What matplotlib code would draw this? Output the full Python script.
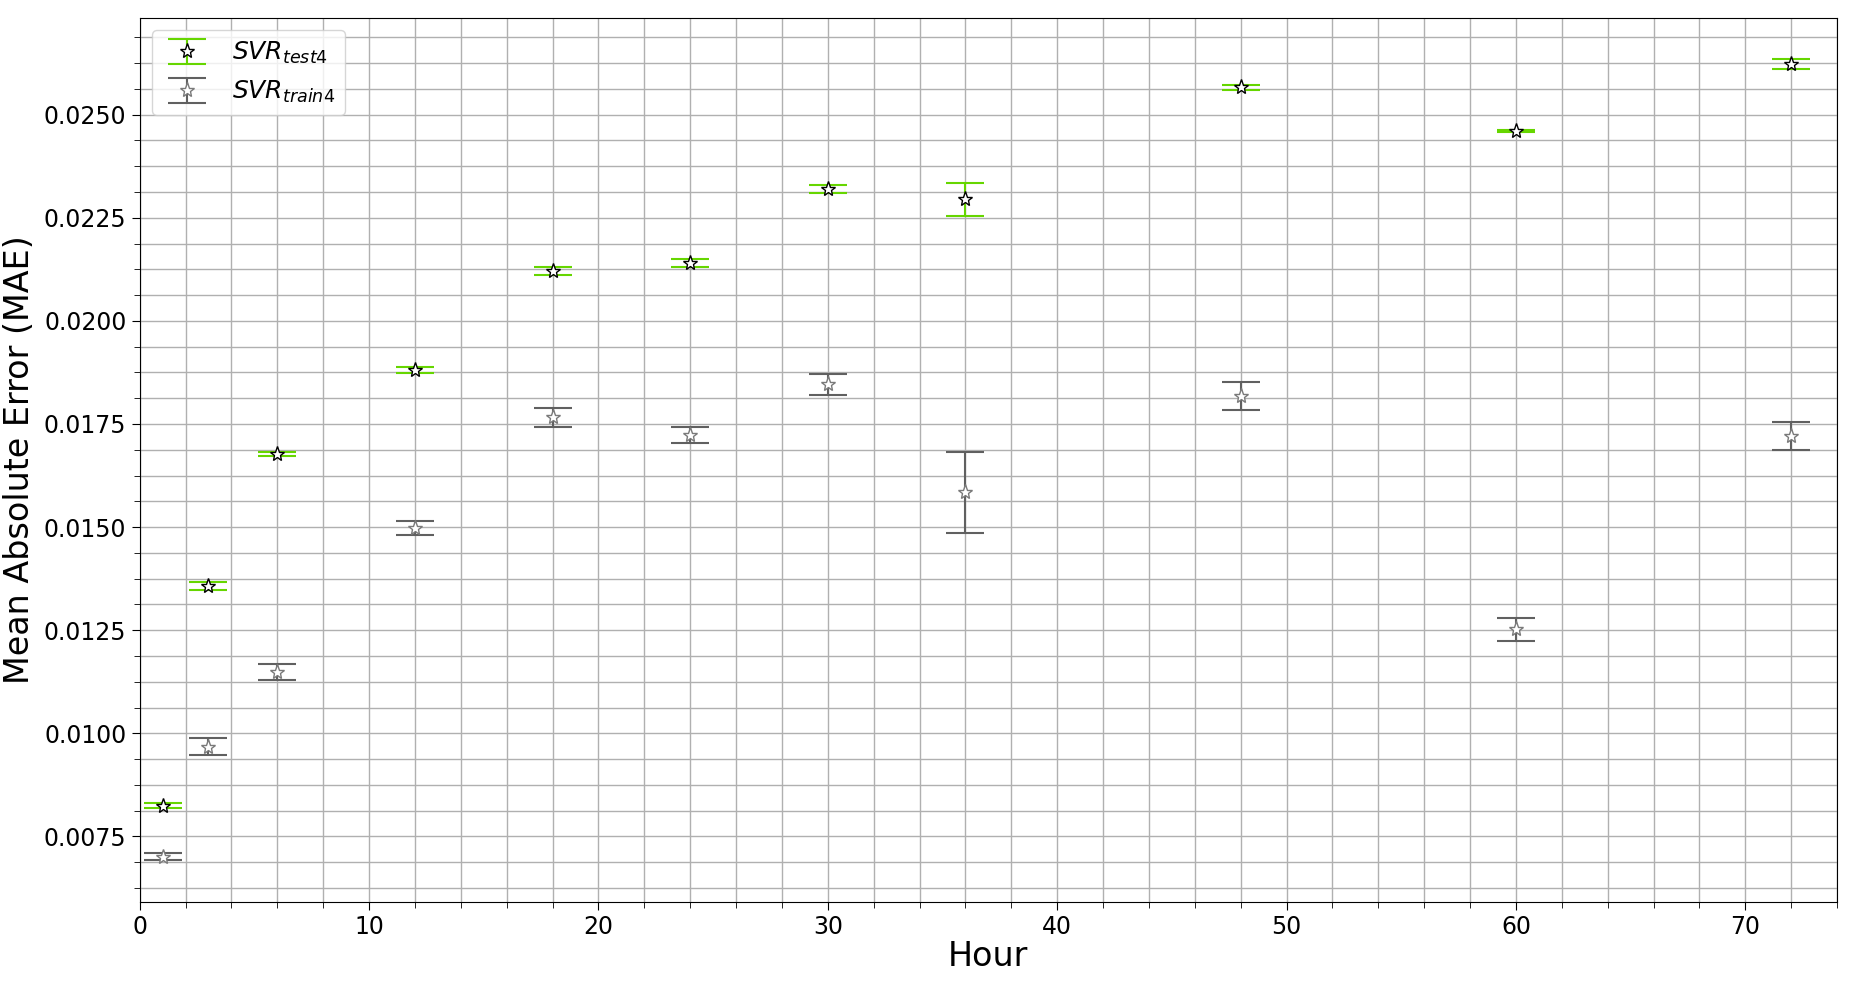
import matplotlib
matplotlib.use("Agg")
import matplotlib.pyplot as plt
from matplotlib.ticker import MultipleLocator

hours = [1, 3, 6, 12, 18, 24, 30, 36, 48, 60, 72]

# test MAE and spread
svr_test = [0.00825, 0.01358, 0.01677, 0.01880, 0.02121, 0.02141, 0.02319, 0.02295, 0.02566, 0.02460, 0.02623]
svr_test_err = [0.00005, 0.00010, 0.00004, 0.00007, 0.00010, 0.00010, 0.00010, 0.00040, 0.00006, 0.00002, 0.00012]

# train MAE and spread
svr_train = [0.00701, 0.00968, 0.01149, 0.01499, 0.01766, 0.01723, 0.01846, 0.01584, 0.01817, 0.01252, 0.01720]
svr_train_err = [0.00008, 0.00020, 0.00019, 0.00017, 0.00024, 0.00020, 0.00026, 0.00099, 0.00034, 0.00027, 0.00034]

fig = plt.figure(figsize=(18.55, 9.86), dpi=100)
ax = fig.add_axes([0.0753, 0.0856, 0.9150, 0.8964])

ax.errorbar(hours, svr_test, yerr=svr_test_err, fmt='*', color='#66d600', ecolor='#66d600',
            mfc='white', mec='black', markersize=11, capsize=14, elinewidth=1.5, capthick=1.5,
            label='$SVR_{test4}$', zorder=3)
ax.errorbar(hours, svr_train, yerr=svr_train_err, fmt='*', color='#606060', ecolor='#606060',
            mfc='white', mec='#7a7a7a', markersize=11, capsize=14, elinewidth=1.5, capthick=1.5,
            label='$SVR_{train4}$', zorder=3)

ax.set_xlim(0, 74)
ax.set_ylim(0.00592, 0.02735)
ax.xaxis.set_major_locator(MultipleLocator(10))
ax.xaxis.set_minor_locator(MultipleLocator(2))
ax.yaxis.set_major_locator(MultipleLocator(0.0025))
ax.yaxis.set_minor_locator(MultipleLocator(0.000625))
ax.grid(True, which='both', color='#b0b0b0', linewidth=1.0, zorder=0)
ax.set_axisbelow(True)

ax.tick_params(axis='both', which='major', labelsize=17, length=6)
ax.tick_params(axis='both', which='minor', length=4)

ax.set_xlabel('Hour', fontsize=24, labelpad=1)
ax.set_ylabel('Mean Absolute Error (MAE)', fontsize=24, labelpad=6)

ax.legend(loc='upper left', fontsize=18)

fig.savefig('out.png', dpi=100)
